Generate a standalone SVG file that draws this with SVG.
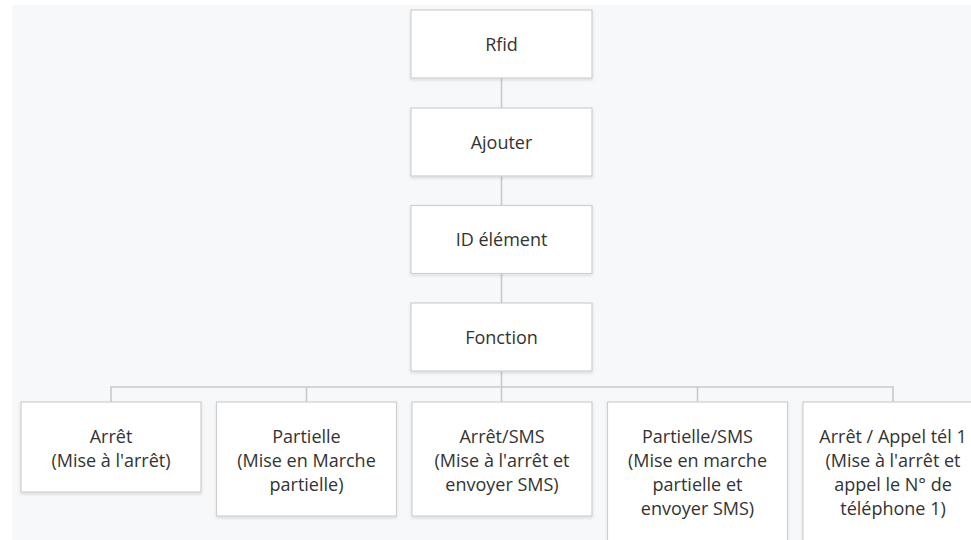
<svg xmlns="http://www.w3.org/2000/svg" width="971" height="540" viewBox="0 0 971 540">
<defs>
<filter id="sh" x="-10%" y="-10%" width="120%" height="130%">
<feDropShadow dx="0" dy="1.5" stdDeviation="1.5" flood-color="#000" flood-opacity="0.12"/>
</filter>
</defs>
<style>
.box{fill:#fff;stroke:#cfcfcf;stroke-width:1.2;filter:url(#sh)}
.t{font-family:"Open Sans","Noto Sans",sans-serif;font-size:18px;fill:#333;text-anchor:middle}
.c{stroke:#c9c9c9;stroke-width:1.6;fill:none}
</style>
<rect x="0" y="0" width="971" height="540" fill="#fff"/>
<rect x="12" y="5" width="959" height="535" fill="#f7f8fa"/>
<g id="connectors">
<line class="c" x1="501.5" y1="78" x2="501.5" y2="108"/>
<line class="c" x1="501.5" y1="176" x2="501.5" y2="205"/>
<line class="c" x1="501.5" y1="273" x2="501.5" y2="303"/>
<line class="c" x1="501.5" y1="371" x2="501.5" y2="387"/>
<polyline class="c" points="111,402 111,387 893,387 893,402"/>
<line class="c" x1="306.5" y1="387" x2="306.5" y2="402"/>
<line class="c" x1="501.5" y1="387" x2="501.5" y2="402"/>
<line class="c" x1="697.5" y1="387" x2="697.5" y2="402"/>
</g>
<g id="rfid">
<rect class="box" x="411" y="10" width="181" height="68"/>
<text class="t" x="501.5" y="50.5">Rfid</text>
</g>
<g id="ajouter">
<rect class="box" x="411" y="108" width="181" height="68"/>
<text class="t" x="501.5" y="148.5">Ajouter</text>
</g>
<g id="id-element">
<rect class="box" x="411" y="205.5" width="181" height="68"/>
<text class="t" x="501.5" y="246">ID élément</text>
</g>
<g id="fonction">
<rect class="box" x="411" y="303" width="181" height="68"/>
<text class="t" x="501.5" y="343.5">Fonction</text>
</g>
<g id="arret">
<rect class="box" x="21" y="402" width="180" height="90"/>
<text class="t" x="111" y="443">Arrêt</text>
<text class="t" x="111" y="467">(Mise à l'arrêt)</text>
</g>
<g id="partielle">
<rect class="box" x="216.5" y="402" width="180" height="114"/>
<text class="t" x="306.5" y="443">Partielle</text>
<text class="t" x="306.5" y="467">(Mise en Marche</text>
<text class="t" x="306.5" y="491">partielle)</text>
</g>
<g id="arret-sms">
<rect class="box" x="412" y="402" width="180" height="114"/>
<text class="t" x="502" y="443">Arrêt/SMS</text>
<text class="t" x="502" y="467">(Mise à l'arrêt et</text>
<text class="t" x="502" y="491">envoyer SMS)</text>
</g>
<g id="partielle-sms">
<rect class="box" x="607.5" y="402" width="180" height="140"/>
<text class="t" x="697.5" y="443">Partielle/SMS</text>
<text class="t" x="697.5" y="467">(Mise en marche</text>
<text class="t" x="697.5" y="491">partielle et</text>
<text class="t" x="697.5" y="515">envoyer SMS)</text>
</g>
<g id="arret-appel">
<rect class="box" x="803" y="402" width="180" height="140"/>
<text class="t" x="893" y="443">Arrêt / Appel tél 1</text>
<text class="t" x="893" y="467">(Mise à l'arrêt et</text>
<text class="t" x="893" y="491">appel le N° de</text>
<text class="t" x="893" y="515">téléphone 1)</text>
</g>
</svg>
